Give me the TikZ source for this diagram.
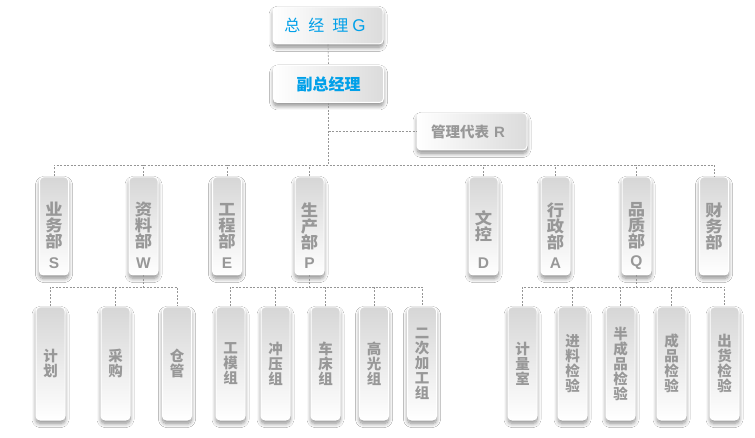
\documentclass[tikz,border=0pt]{standalone}
\usepackage{fontspec}
\setmainfont{Liberation Sans}
\newfontfamily\cjk{Noto Sans CJK SC}
\newfontfamily\cjkw[FakeStretch=1.08]{Noto Sans CJK SC}
\usetikzlibrary{shadows.blur,calc}
\definecolor{tgray}{RGB}{152,152,152}
\definecolor{tblue}{RGB}{0,160,233}
\definecolor{lgray}{RGB}{150,150,150}
\begin{document}
\begin{tikzpicture}[x=1pt,y=-1pt,
  boxbase/.style={rounded corners=4pt, draw=white, line width=1pt, inner sep=0pt,
    blur shadow={shadow xshift=0pt, shadow yshift=-3.5pt, shadow blur steps=10,
      shadow blur radius=4pt, shadow blur extra rounding=2pt, shadow opacity=45}},
  topbox/.style={boxbase, left color=white, right color=black!14,
    minimum width=110pt, minimum height=37pt},
  dept/.style={boxbase, top color=black!16, bottom color=white,
    minimum width=29pt, minimum height=98pt},
  unitbox/.style={dept, minimum height=113pt},
  ctext/.style={font=\cjkw\bfseries\fontsize{16}{16}\selectfont, text=tgray, align=center, inner sep=0pt},
  utext/.style={font=\cjk\bfseries\fontsize{14.5}{15}\selectfont, text=tgray, align=center, inner sep=0pt},
  ltext/.style={font=\bfseries\fontsize{15.5}{15.5}\selectfont, text=tgray, inner sep=0pt},
  conn/.style={draw=lgray, line width=0.6pt, dash pattern=on 2pt off 1.5pt},
]
\fill[white] (0,0) rectangle (755,438);
\useasboundingbox (0,0) rectangle (755,438);

% top level
\node[topbox] (G) at (328,25.5) {};
\node[font=\cjk\fontsize{16}{16}\selectfont, text=tblue, inner sep=0pt] (Gt) at ([xshift=-3pt]G.center)
  {总\hspace{8pt}经\hspace{8pt}理\hspace{4pt}{\rmfamily\fontsize{17}{17}\selectfont G}};
\node[topbox] (VP) at (328.5,84) {};
\node[font=\cjk\bfseries\fontsize{16}{16}\selectfont, text=tblue, inner sep=0pt] (VPt) at (VP.center) {副总经理};
\node[topbox] (R) at (472,131.5) {};
\node[font=\cjk\bfseries\fontsize{14.5}{14.5}\selectfont, text=tgray, inner sep=0pt] (Rt) at ([xshift=-4pt]R.center)
  {管理代表\hspace{5pt}{\rmfamily\bfseries\fontsize{15}{15}\selectfont R}};

% departments
\foreach \n/\x/\t/\l in {S/54/业\\务\\部/S, W/143.5/资\\料\\部/W, E/227/工\\程\\部/E,
  P/309.5/生\\产\\部/P, D/483.5/文\\控/D, A/555.5/行\\政\\部/A, Q/636.5/品\\质\\部/Q}{
  \node[dept] (\n) at (\x,226) {};
  \node[ctext] (\n t) at (\n.center) {\t};
  \node[ltext] (\n l) at ($(\n.center)+(0,37)$) {\l};
}
\node[dept] (F) at (714,226) {};
\node[ctext] (Ft) at (F.center) {财\\务\\部};

% units
\foreach \n/\x/\t in {u1/50.5/计\\划, u2/115.5/采\\购, u3/177/仓\\管,
  u4/230.5/工\\模\\组, u5/275.5/冲\\压\\组, u6/325.5/车\\床\\组, u7/374/高\\光\\组,
  u8/422/二\\次\\加\\工\\组, u9/522.5/计\\量\\室, u10/572.5/进\\料\\检\\验,
  u11/620.5/半\\成\\品\\检\\验, u12/671.5/成\\品\\检\\验, u13/724.5/出\\货\\检\\验}{
  \node[unitbox] (\n) at (\x,363.5) {};
  \node[utext] (\n t) at (\n.center) {\t};
}

% connectors
\coordinate (bus) at (0,165);
\coordinate (busW) at (0,287);
\draw[conn] (G.south) -- (VP.north);
\draw[conn] (VP.south) -- (VP.south |- bus);
\draw[conn] (VP.south |- R.west) -- (R.west);
\draw[conn] (S.north) -- (S.north |- bus) -- (F.north |- bus) -- (F.north);
\foreach \n in {W,E,P,D,A,Q}{\draw[conn] (\n.north) -- (\n.north |- bus);}

\draw[conn] (W.south) -- (W.south |- busW);
\draw[conn] (u1.north) -- (u1.north |- busW) -- (u3.north |- busW) -- (u3.north);
\draw[conn] (u2.north) -- (u2.north |- busW);

\draw[conn] (P.south) -- (P.south |- busW);
\draw[conn] (u4.north) -- (u4.north |- busW) -- (u8.north |- busW) -- (u8.north);
\foreach \n in {u5,u6,u7}{\draw[conn] (\n.north) -- (\n.north |- busW);}

\draw[conn] (Q.south) -- (Q.south |- busW);
\draw[conn] (u9.north) -- (u9.north |- busW) -- (u13.north |- busW) -- (u13.north);
\foreach \n in {u10,u11,u12}{\draw[conn] (\n.north) -- (\n.north |- busW);}
\end{tikzpicture}
\end{document}
